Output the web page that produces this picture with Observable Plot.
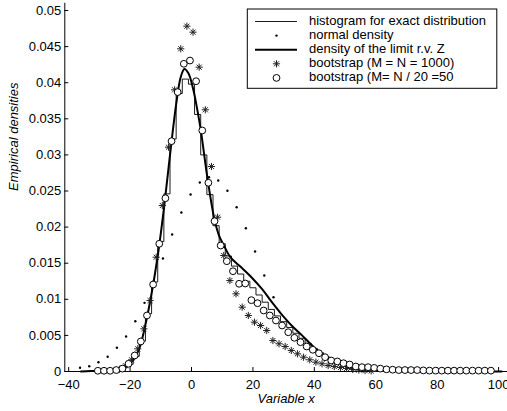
<!DOCTYPE html>
<html><head><meta charset="utf-8">
<script src="https://cdn.jsdelivr.net/npm/d3@7"></script>
<script src="https://cdn.jsdelivr.net/npm/@observablehq/plot@0.6"></script>
<style>body{margin:0;background:#fff}#chart{width:507px;height:411px;overflow:hidden}</style>
</head><body><div id="chart"></div>
<script>
// ---- data ----
const xTicks = [-40, -20, 0, 20, 40, 60, 80, 100];
const yTicks = [0, 0.005, 0.01, 0.015, 0.02, 0.025, 0.03, 0.035, 0.04, 0.045, 0.05];

// histogram for exact distribution (bin centres, heights)
const histX = [-36,-34,-32,-30,-28,-26,-24,-22,-20,-18,-16,-14,-12,-10,-8,-6,-4,-2,0,2,4,6,8,10,12,14,16,18,20,22,24,26,28,30,32,34,36,38,40,42,44,46,48,50,52,54,56,58,60,62,64,66,68,70,72,74,76,78,80,82,84,86,88,90,92,94,96,98,100];
const histY = [0,0,0,0.0001,0.0001,0.0002,0.0003,0.0005,0.001,0.0021,0.0042,0.008,0.0124,0.018,0.0246,0.0322,0.0385,0.0405,0.0398,0.0356,0.03,0.0245,0.0202,0.0177,0.016,0.0146,0.0135,0.0125,0.0116,0.0106,0.0096,0.0086,0.0077,0.0069,0.0061,0.0053,0.0046,0.0039,0.0032,0.0026,0.002,0.0016,0.0012,0.0009,0.0006,0.0004,0.0003,0.0002,0.0001,0.0001,0.0001,0,0,0,0,0,0,0,0,0,0,0,0,0,0,0,0,0,0];

// normal density
const normX = [-36.3,-33.3,-30.3,-27.3,-24.3,-21.3,-18.3,-15.3,-12.3,-9.3,-6.3,-3.3,-0.3,2.7,5.7,8.7,11.7,14.7,17.7,20.7,23.7,26.7];
const normY = [0.00051,0.00073,0.00129,0.00204,0.00328,0.00485,0.00697,0.00951,0.0125,0.01565,0.01898,0.02202,0.02452,0.02618,0.02691,0.02645,0.02503,0.02276,0.01985,0.01662,0.0133,0.01029];

// density of the limit r.v. Z
const limX = [-36,-30,-26,-23,-21,-19,-17,-15,-13,-11,-9,-7,-5,-3.5,-2.3,-1,0.5,2,3,5.4,7.5,9,10.5,12.7,16,19.2,23,26,29,33,36,40,43,46.5,50.5,56,62,70,80,101];
const limY = [0,0.0001,0.0002,0.0004,0.0008,0.0016,0.0032,0.0065,0.0108,0.016,0.0225,0.03,0.037,0.0408,0.0419,0.0413,0.0392,0.036,0.0335,0.0262,0.021,0.0188,0.0175,0.0158,0.0145,0.0132,0.0114,0.0097,0.0081,0.0062,0.005,0.0033,0.0023,0.0015,0.0007,0.00025,0.0001,0.00003,0,0];

// bootstrap (M = N = 1000)
const b1000X = [-23.5,-21.5,-19.5,-17.5,-15.5,-13.5,-11.5,-9.5,-7.5,-5.5,-3.5,-1.5,0.5,2.5,4.5,6.5,8.5,10.5,12.5,14.5,16.5,18.5,20.5,22.5,24.5,26.5,28.5,30.5,32.5,34.5,36.5,38.5,40.5,42.5,44.5,46.5,48.5,50.5,52.5,54.5,56.5,58.5];
const b1000Y = [0.0003,0.0008,0.00162,0.00314,0.00591,0.00983,0.01583,0.02299,0.03107,0.03902,0.0447,0.04783,0.047,0.04215,0.03625,0.02839,0.02137,0.01607,0.0126,0.01076,0.00891,0.00776,0.00683,0.00637,0.00568,0.00429,0.00384,0.00346,0.00291,0.00245,0.00198,0.00162,0.00129,0.00107,0.00083,0.00069,0.00055,0.00042,0.00028,0.0002,0.00012,0.00008];

// bootstrap (M = N/20 = 50)
const b50X = [-30.5,-28.5,-26.5,-24.5,-22.5,-20.5,-18.5,-16.5,-14.5,-12.5,-10.5,-8.5,-6.5,-4.5,-2.5,-0.5,1.5,3.5,5.5,7.5,9.5,11.5,13.5,15.5,17.5,19.5,21.5,23.5,25.5,27.5,29.5,31.5,33.5,35.5,37.5,39.5,41.5,43.5,45.5,47.5,49.5,51.5,53.5,55.5,57.5,59.5,61.5,63.5,65.5,67.5,69.5,71.5,73.5,75.5,77.5,79.5,81.5,83.5,85.5,87.5,89.5,91.5,93.5,95.5,97.5];
const b50Y = [0.0001,0.0001,0.0001,0.0002,0.0004,0.00107,0.00222,0.00416,0.00776,0.01205,0.01769,0.024,0.0319,0.0387,0.04262,0.04307,0.04021,0.03338,0.02614,0.02082,0.01745,0.01528,0.01389,0.01215,0.01219,0.00988,0.00946,0.00845,0.00776,0.00706,0.00637,0.00544,0.00467,0.00406,0.00346,0.00301,0.00253,0.00198,0.00152,0.00139,0.00115,0.00097,0.00069,0.0006,0.0006,0.0005,0.0004,0.0003,0.00025,0.0002,0.0002,0.0002,0.0002,0.00015,0.00012,0.00012,0.00012,0.00012,0.00012,0.00012,0.00012,0.00012,0.00012,0.00012,0.00012];

const legendLabels = ["histogram for exact distribution","normal density","density of the limit r.v. Z","bootstrap (M = N = 1000)","bootstrap (M= N / 20 =50"];

// ---- build tables ----
const zip = (xs, ys) => xs.map((x, i) => ({x, y: ys[i]}));
const hist = zip(histX, histY), norm = zip(normX, normY), lim = zip(limX, limY);
const b1000 = zip(b1000X, b1000Y), b50 = zip(b50X, b50Y);

const xMin = -41.26, xMax = 102.9, yMax = 0.051;
const tickLenX = 1.3, tickLenY = 0.00055;

const asterisk = {
  draw(ctx, size) {
    const r = Math.sqrt(size / Math.PI), d = r * Math.SQRT1_2;
    ctx.moveTo(-r, 0); ctx.lineTo(r, 0);
    ctx.moveTo(0, -r); ctx.lineTo(0, r);
    ctx.moveTo(-d, -d); ctx.lineTo(d, d);
    ctx.moveTo(-d, d); ctx.lineTo(d, -d);
  }
};

const font = "'Liberation Sans', Arial, Helvetica, sans-serif";
const chart = Plot.plot({
  width: 507, height: 411,
  marginLeft: 64.3, marginRight: 0, marginTop: 2.8, marginBottom: 40,
  x: {domain: [xMin, xMax]},
  y: {domain: [0, yMax]},
  style: {fontFamily: font, fontSize: "13px", background: "white", color: "black", overflow: "hidden"},
  marks: [
    Plot.axisX(xTicks, {tickSize: 0, tickPadding: 8.5, label: null, fontSize: 13}),
    Plot.axisY(yTicks, {tickSize: 0, tickPadding: 3.5, label: null, fontSize: 13, tickFormat: d => String(d)}),
    Plot.ruleX(xTicks, {x: d => d, y1: 0, y2: tickLenY, stroke: "black", strokeWidth: 1}),
    Plot.ruleY(yTicks, {y: d => d, x1: xMin, x2: xMin + tickLenX, stroke: "black", strokeWidth: 1}),
    Plot.ruleX([xMin], {stroke: "black", strokeWidth: 1}),
    Plot.ruleY([0], {stroke: "black", strokeWidth: 1}),
    Plot.line(hist, {x: "x", y: "y", curve: "step", stroke: "black", strokeWidth: 0.9}),
    Plot.dot(norm, {x: "x", y: "y", r: 1.2, fill: "black", stroke: "none"}),
    Plot.line(lim, {x: "x", y: "y", curve: "catmull-rom", stroke: "black", strokeWidth: 2}),
    Plot.dot(b1000, {x: "x", y: "y", symbol: asterisk, r: 3.6, fill: "none", stroke: "#222", strokeWidth: 1}),
    Plot.dot(b50, {x: "x", y: "y", symbol: "circle", r: 3.4, fill: "white", stroke: "black", strokeWidth: 1}),
    Plot.text(["Variable x"], {text: d => d, frameAnchor: "bottom", dy: 31, fontStyle: "italic", fontSize: 13}),
    Plot.text(["Empirical densities"], {text: d => d, frameAnchor: "left", rotate: -90, dx: -50.5, dy: 3.5, fontStyle: "italic", fontSize: 13})
  ]
});
document.getElementById("chart").appendChild(chart);

// ---- legend box ----
const svg = d3.select(chart);
const g = svg.append("g").attr("font-family", font).attr("font-size", 13).attr("text-anchor", "start");
const bx = 247.3, by = 9, bw = 249.5, bh = 79.3;
g.append("rect").attr("x", bx).attr("y", by).attr("width", bw).attr("height", bh)
  .attr("fill", "white").attr("stroke", "black").attr("stroke-width", 1);
const baselines = [25, 39.1, 53.2, 67.3, 81.4];
legendLabels.forEach((lab, i) => {
  const yb = baselines[i], ym = yb - 3.5;
  g.append("text").attr("x", 309).attr("y", yb).attr("fill", "black").attr("text-anchor", "start").text(lab);
  if (i === 0 || i === 2) {
    g.append("line").attr("x1", 255).attr("x2", 297).attr("y1", ym).attr("y2", ym)
      .attr("stroke", "black").attr("stroke-width", i === 0 ? 0.9 : 2);
  } else if (i === 1) {
    g.append("circle").attr("cx", 276.5).attr("cy", ym).attr("r", 1.2).attr("fill", "black");
  } else if (i === 3) {
    g.append("path").attr("transform", `translate(276.5,${ym})`)
      .attr("d", d3.symbol(asterisk, 3.6 * 3.6 * Math.PI)()).attr("fill", "none").attr("stroke", "#222");
  } else {
    g.append("circle").attr("cx", 276.5).attr("cy", ym).attr("r", 3.4).attr("fill", "white").attr("stroke", "black");
  }
});
</script>
</body></html>
